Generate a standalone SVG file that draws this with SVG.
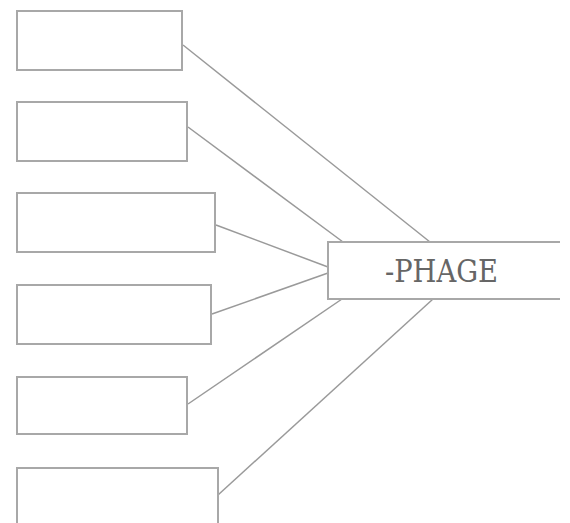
<svg xmlns="http://www.w3.org/2000/svg" width="570" height="523" viewBox="0 0 570 523">
<style>
.box{fill:#fff;stroke:#a8a8a8;stroke-width:2}
.ln{stroke:#9a9a9a;stroke-width:1.5;fill:none}
.lbl{font-family:"DejaVu Serif Condensed","DejaVu Serif","Liberation Serif",serif;font-size:31px;fill:#666}
</style>
<rect width="570" height="523" fill="#fff"/>
<g id="connectors">
<line class="ln" x1="183" y1="45" x2="430" y2="242"/>
<line class="ln" x1="188" y1="127" x2="343" y2="242"/>
<line class="ln" x1="216" y1="225" x2="328" y2="267"/>
<line class="ln" x1="212" y1="314" x2="328" y2="273"/>
<line class="ln" x1="188" y1="404" x2="342" y2="299"/>
<line class="ln" x1="218" y1="495" x2="433" y2="299"/>
</g>
<g id="box1"><rect class="box" x="17" y="11" width="165" height="59"/></g>
<g id="box2"><rect class="box" x="17" y="102" width="170" height="59"/></g>
<g id="box3"><rect class="box" x="17" y="193" width="198" height="59"/></g>
<g id="box4"><rect class="box" x="17" y="285" width="194" height="59"/></g>
<g id="box5"><rect class="box" x="17" y="377" width="170" height="57"/></g>
<g id="box6"><rect class="box" x="17" y="468" width="201" height="62"/></g>
<g id="phage">
<path class="box" d="M560 242 H328 V299 H560"/>
<text class="lbl" x="441.5" y="282" text-anchor="middle" textLength="113" lengthAdjust="spacingAndGlyphs">-PHAGE</text>
</g>
</svg>
